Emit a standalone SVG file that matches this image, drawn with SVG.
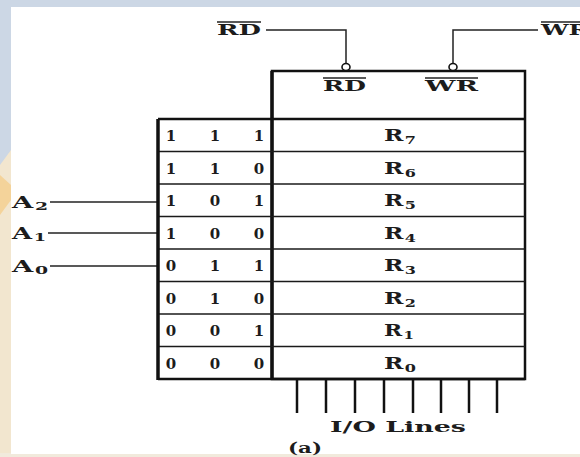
<svg xmlns="http://www.w3.org/2000/svg" width="580" height="457" viewBox="0 0 580 457">
  <style>
    .t { font-family: "DejaVu Serif", "Liberation Serif", serif; font-weight: bold; fill: #1c1c1c; }
    .lbl { font-size: 15px; }
    .big { font-size: 16px; }
    .dig { font-size: 15px; text-anchor: middle; }
    .sub { font-size: 11px; }
    .thick { stroke: #111; stroke-width: 3.5; fill: none; }
    .med { stroke: #111; stroke-width: 2.5; fill: none; }
    .thin { stroke: #1a1a1a; stroke-width: 1.6; fill: none; }
    .wire { stroke: #222; stroke-width: 1.5; fill: none; }
    .bar { stroke: #222; stroke-width: 1.3; }
    .bubble { fill: #fff; stroke: #111; stroke-width: 1.6; }
  </style>

  <!-- page background -->
  <rect x="0" y="0" width="580" height="457" fill="#ccd7e5"/>
  <polygon points="0,165 11,150 11,457 0,457" fill="#f2e6cf"/>
  <polygon points="0,175 11,185 11,200 0,215" fill="#f4d39a"/>
  <rect x="0" y="453" width="580" height="4" fill="#f1eadc"/>
  <rect x="11" y="7" width="569" height="447" fill="#ffffff"/>

  <!-- connectors -->
  <g id="connectors">
    <polyline class="wire" points="266,30 346,30 346,63"/>
    <polyline class="wire" points="538,30 453,30 453,63"/>
    <line class="wire" x1="50" y1="202" x2="158" y2="202"/>
    <line class="wire" x1="48" y1="233" x2="158" y2="233"/>
    <line class="wire" x1="50" y1="266" x2="158" y2="266"/>
    <g class="med">
      <line x1="297" y1="379" x2="297" y2="413"/>
      <line x1="326" y1="379" x2="326" y2="413"/>
      <line x1="355" y1="379" x2="355" y2="413"/>
      <line x1="384" y1="379" x2="384" y2="413"/>
      <line x1="413" y1="379" x2="413" y2="413"/>
      <line x1="441" y1="379" x2="441" y2="413"/>
      <line x1="469" y1="379" x2="469" y2="413"/>
      <line x1="497" y1="379" x2="497" y2="413"/>
    </g>
  </g>

  <!-- external signals -->
  <g id="signal-rd">
    <line class="bar" x1="217" y1="22" x2="261" y2="22"/>
    <text class="t lbl" x="217" y="35" textLength="44" lengthAdjust="spacingAndGlyphs">RD</text>
  </g>
  <g id="signal-wr">
    <line class="bar" x1="541" y1="22" x2="580" y2="22"/>
    <text class="t lbl" x="541" y="35" textLength="48" lengthAdjust="spacingAndGlyphs">WR</text>
  </g>
  <g id="signal-a2"><text class="t big" x="12" y="208" textLength="36" lengthAdjust="spacingAndGlyphs">A<tspan class="sub" dx="1" dy="2">2</tspan></text></g>
  <g id="signal-a1"><text class="t big" x="12" y="239" textLength="34" lengthAdjust="spacingAndGlyphs">A<tspan class="sub" dx="1" dy="2">1</tspan></text></g>
  <g id="signal-a0"><text class="t big" x="12" y="272" textLength="36" lengthAdjust="spacingAndGlyphs">A<tspan class="sub" dx="1" dy="2">0</tspan></text></g>

  <!-- memory block -->
  <g id="memory">
    <rect class="med" x="272" y="71" width="253" height="308"/>
    <line class="thick" x1="272" y1="71" x2="272" y2="379"/>
    <ellipse class="bubble" cx="346" cy="67" rx="4" ry="3.5"/>
    <ellipse class="bubble" cx="453" cy="67" rx="4" ry="3.5"/>
    <line class="bar" x1="323" y1="78" x2="366" y2="78"/>
    <text class="t lbl" x="323" y="91" textLength="43" lengthAdjust="spacingAndGlyphs">RD</text>
    <line class="bar" x1="425" y1="78" x2="478" y2="78"/>
    <text class="t lbl" x="425" y="91" textLength="53" lengthAdjust="spacingAndGlyphs">WR</text>
    <line class="med" x1="158" y1="119" x2="525" y2="119"/>
    <g class="thin">
      <line x1="158" y1="151.5" x2="525" y2="151.5"/>
      <line x1="158" y1="184" x2="525" y2="184"/>
      <line x1="158" y1="216.5" x2="525" y2="216.5"/>
      <line x1="158" y1="249" x2="525" y2="249"/>
      <line x1="158" y1="281.5" x2="525" y2="281.5"/>
      <line x1="158" y1="314" x2="525" y2="314"/>
      <line x1="158" y1="346.5" x2="525" y2="346.5"/>
    </g>
    <line class="med" x1="158" y1="379" x2="525" y2="379"/>
    <g class="t big">
      <text x="384" y="141" textLength="32" lengthAdjust="spacingAndGlyphs">R<tspan class="sub" dx="1" dy="3">7</tspan></text>
      <text x="384" y="173.5" textLength="32" lengthAdjust="spacingAndGlyphs">R<tspan class="sub" dx="1" dy="3">6</tspan></text>
      <text x="384" y="206" textLength="32" lengthAdjust="spacingAndGlyphs">R<tspan class="sub" dx="1" dy="3">5</tspan></text>
      <text x="384" y="238.5" textLength="32" lengthAdjust="spacingAndGlyphs">R<tspan class="sub" dx="1" dy="3">4</tspan></text>
      <text x="384" y="271" textLength="32" lengthAdjust="spacingAndGlyphs">R<tspan class="sub" dx="1" dy="3">3</tspan></text>
      <text x="384" y="303.5" textLength="32" lengthAdjust="spacingAndGlyphs">R<tspan class="sub" dx="1" dy="3">2</tspan></text>
      <text x="384" y="336" textLength="30" lengthAdjust="spacingAndGlyphs">R<tspan class="sub" dx="1" dy="3">1</tspan></text>
      <text x="384" y="368.5" textLength="32" lengthAdjust="spacingAndGlyphs">R<tspan class="sub" dx="1" dy="3">0</tspan></text>
    </g>
  </g>

  <!-- address decoder table -->
  <g id="decoder">
    <line class="thick" x1="158" y1="119" x2="158" y2="380"/>
    <g class="t dig">
      <text x="171" y="141">1</text><text x="215" y="141">1</text><text x="259" y="141">1</text>
      <text x="171" y="173.5">1</text><text x="215" y="173.5">1</text><text x="259" y="173.5">0</text>
      <text x="171" y="206">1</text><text x="215" y="206">0</text><text x="259" y="206">1</text>
      <text x="171" y="238.5">1</text><text x="215" y="238.5">0</text><text x="259" y="238.5">0</text>
      <text x="171" y="271">0</text><text x="215" y="271">1</text><text x="259" y="271">1</text>
      <text x="171" y="303.5">0</text><text x="215" y="303.5">1</text><text x="259" y="303.5">0</text>
      <text x="171" y="336">0</text><text x="215" y="336">0</text><text x="259" y="336">1</text>
      <text x="171" y="368.5">0</text><text x="215" y="368.5">0</text><text x="259" y="368.5">0</text>
    </g>
  </g>

  <g id="captions">
    <text class="t lbl" x="330" y="432" textLength="136" lengthAdjust="spacingAndGlyphs">I/O Lines</text>
    <text class="t" x="288" y="453" font-size="15" textLength="34" lengthAdjust="spacingAndGlyphs">(a)</text>
  </g>
</svg>
